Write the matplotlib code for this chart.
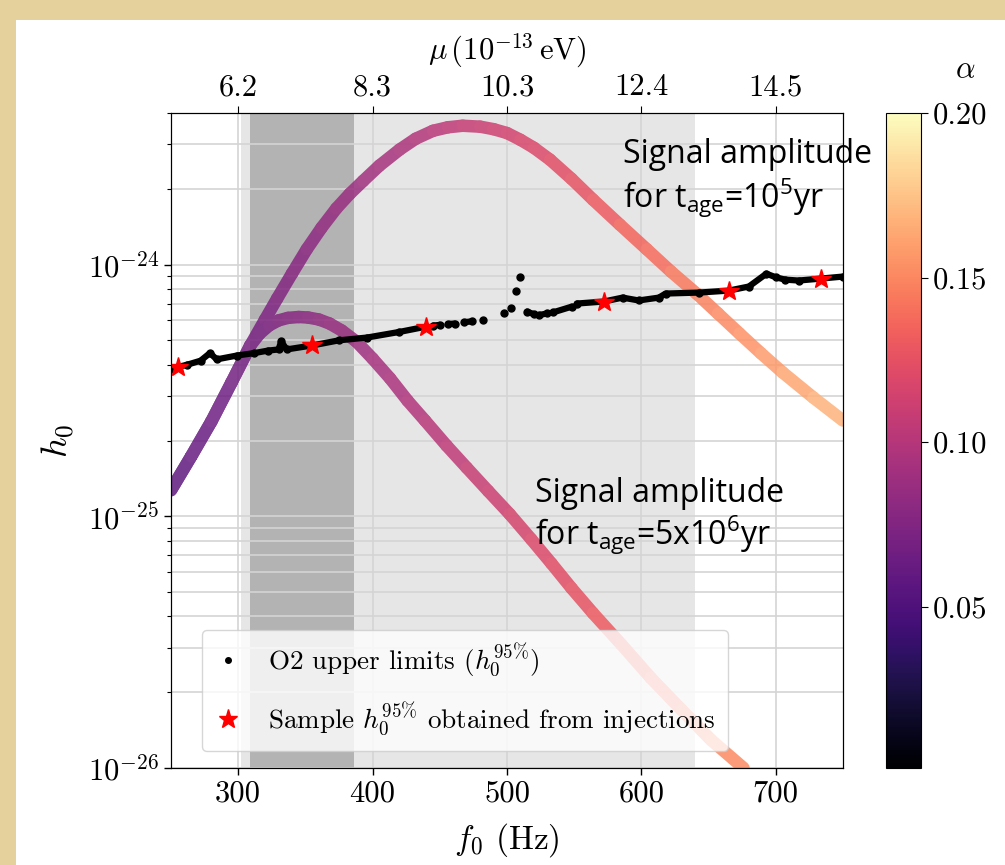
import numpy as np
import matplotlib
matplotlib.use('Agg')
import matplotlib.pyplot as plt
from matplotlib.collections import LineCollection
from matplotlib.patches import Rectangle
from matplotlib.colors import Normalize
from matplotlib.lines import Line2D
from matplotlib.ticker import NullFormatter

plt.rcParams['font.family'] = 'serif'
plt.rcParams['font.serif'] = ['cmr10']
plt.rcParams['mathtext.fontset'] = 'cm'
# used only by the slide annotations (math_fontfamily='custom')
plt.rcParams['mathtext.rm'] = 'Open Sans'
plt.rcParams['mathtext.it'] = 'Open Sans:italic'
plt.rcParams['mathtext.bf'] = 'Open Sans:bold'
plt.rcParams['axes.unicode_minus'] = False
plt.rcParams['axes.formatter.use_mathtext'] = True

nan = np.nan

# signal amplitude, t_age = 1e5 yr
f_young = [250, 265, 280, 295, 309, 320, 329, 340, 351, 362, 373, 383, 393, 405, 420, 432, 445, 456, 467,
           480, 490, 500, 510, 520, 532, 548, 564, 584, 604, 622, 641, 657, 673, 689, 705, 728, 750]
h_young = [1.27e-25, 1.73e-25, 2.38e-25, 3.40e-25, 4.77e-25, 6.05e-25, 7.33e-25, 9.21e-25, 1.15e-24,
           1.40e-24, 1.67e-24, 1.91e-24, 2.15e-24, 2.47e-24, 2.86e-24, 3.16e-24, 3.40e-24, 3.51e-24,
           3.56e-24, 3.53e-24, 3.45e-24, 3.33e-24, 3.13e-24, 2.91e-24, 2.61e-24, 2.19e-24, 1.81e-24,
           1.44e-24, 1.15e-24, 9.38e-25, 7.67e-25, 6.39e-25, 5.32e-25, 4.44e-25, 3.73e-25, 2.96e-25, 2.40e-25]
a_young = [0.057, 0.060, 0.064, 0.067, 0.070, 0.073, 0.075, 0.077, 0.080, 0.082, 0.085, 0.087, 0.089,
           0.092, 0.095, 0.098, 0.101, 0.104, 0.106, 0.109, 0.111, 0.114, 0.116, 0.118, 0.121, 0.124,
           0.128, 0.133, 0.137, 0.141, 0.146, 0.149, 0.153, 0.156, 0.160, 0.165, 0.170]

# signal amplitude, t_age = 5e6 yr
f_old = [250, 265, 280, 295, 309, 316, 323, 330, 337, 345, 352, 360, 368, 377, 388, 400, 413, 426, 439,
         455, 470, 486, 502, 518, 533, 548, 564, 585, 607, 630, 652, 676]
h_old = [1.27e-25, 1.73e-25, 2.38e-25, 3.40e-25, 4.77e-25, 5.32e-25, 5.73e-25, 6.00e-25, 6.14e-25,
         6.19e-25, 6.16e-25, 6.05e-25, 5.83e-25, 5.47e-25, 4.94e-25, 4.23e-25, 3.53e-25, 2.88e-25,
         2.40e-25, 1.91e-25, 1.56e-25, 1.26e-25, 1.02e-25, 8.11e-26, 6.50e-26, 5.18e-26, 4.12e-26,
         3.10e-26, 2.28e-26, 1.70e-26, 1.29e-26, 1.0e-26]
a_old = [0.057, 0.060, 0.064, 0.067, 0.070, 0.072, 0.073, 0.075, 0.077, 0.078, 0.080, 0.082, 0.084,
         0.086, 0.088, 0.091, 0.094, 0.097, 0.100, 0.103, 0.107, 0.110, 0.114, 0.118, 0.121, 0.124,
         0.128, 0.133, 0.138, 0.143, 0.148, 0.153]

# O2 upper limits (nan = gap)
ul_f = [250, 262, 272, 279, 284, 299, 312, 322, 330, 332, 336, 355, 375, 396, 420, 440,
        nan, 445, 450, nan, 456, 461, nan, 468, 474, nan, 482, nan, 498, nan, 503, nan, 507, nan, 510, nan,
        515, 520, nan, 524, 530, nan, 534, 548, nan,
        552, 572, 586, 598, 613, 618, 643, 665, 680, 693, 700, 707, 717, 734, 750]
ul_h = [3.86e-25, 4.0e-25, 4.15e-25, 4.45e-25, 4.2e-25, 4.35e-25, 4.45e-25, 4.55e-25, 4.6e-25, 4.95e-25,
        4.6e-25, 4.77e-25, 5.0e-25, 5.13e-25, 5.4e-25, 5.67e-25,
        nan, 5.72e-25, 5.76e-25, nan, 5.8e-25, 5.83e-25, nan, 5.9e-25, 5.95e-25, nan, 6.0e-25, nan,
        6.4e-25, nan, 6.75e-25, nan, 7.88e-25, nan, 8.96e-25, nan,
        6.5e-25, 6.35e-25, nan, 6.3e-25, 6.4e-25, nan, 6.45e-25, 6.8e-25, nan,
        7.0e-25, 7.13e-25, 7.39e-25, 7.2e-25, 7.39e-25, 7.67e-25, 7.74e-25, 7.88e-25, 8.18e-25,
        9.2e-25, 8.9e-25, 8.71e-25, 8.64e-25, 8.8e-25, 8.96e-25]

# injection samples
star_f = [255, 355, 440, 572, 665, 734]
star_h = [3.9e-25, 4.77e-25, 5.67e-25, 7.13e-25, 7.88e-25, 8.8e-25]

x_ticks = [300, 400, 500, 600, 700]
x_labels = ['300', '400', '500', '600', '700']
top_labels = ['6.2', '8.3', '10.3', '12.4', '14.5']
y_ticks = [1e-26, 1e-25, 1e-24]
y_labels = [r'$10^{-26}$', r'$10^{-25}$', r'$10^{-24}$']
cb_ticks = [0.05, 0.10, 0.15, 0.20]
cb_labels = ['0.05', '0.10', '0.15', '0.20']

W, H = 1005, 865
fig = plt.figure(figsize=(W / 100, H / 100), dpi=100)
fig.patch.set_facecolor('#e4d19c')
fig.add_artist(Rectangle((16 / W, 0), 1 - 16 / W, (H - 20) / H, transform=fig.transFigure,
                         facecolor='white', edgecolor='none', zorder=-1))

ax = fig.add_axes([171 / W, 97 / H, 672 / W, 655 / H])
cax = fig.add_axes([886 / W, 97 / H, 35 / W, 655 / H])

ax.set_yscale('log')

# frequency bands
ax.axvspan(302, 640, color='#e6e6e6', lw=0, zorder=0)
ax.axvspan(309, 386, color='#b3b3b3', lw=0, zorder=0)

# signal curves coloured by alpha
norm = Normalize(vmin=0.001, vmax=0.2)
cmap = plt.get_cmap('magma')


def fade(im, dpi):
    im[:, :, 3] *= 0.85
    return im, 0, 0


segs, vals = [], []
for f, h, a in [(f_young, h_young, a_young), (f_old, h_old, a_old)]:
    pts = np.column_stack([f, h])
    segs.extend(np.stack([pts[:-1], pts[1:]], axis=1))
    vals.extend((np.array(a[:-1]) + np.array(a[1:])) / 2)
lc = LineCollection(segs, cmap=cmap, norm=norm, linewidths=9, capstyle='round',
                    joinstyle='round', zorder=2)
lc.set_array(np.array(vals))
lc.set_agg_filter(fade)
ax.add_collection(lc)

ax.plot(ul_f, ul_h, '-o', color='k', lw=4.5, ms=5, solid_capstyle='round', zorder=3)
ax.plot(star_f, star_h, ls='none', marker='*', ms=15, color='red', zorder=4)

ax.set_xlim(250, 750)
ax.set_ylim(1e-26, 4e-24)
ax.set_xticks(x_ticks)
ax.set_xticklabels(x_labels)
ax.set_yticks(y_ticks)
ax.set_yticklabels(y_labels)
ax.yaxis.set_minor_formatter(NullFormatter())
ax.tick_params(which='major', labelsize=22, length=5, width=1)
ax.tick_params(which='minor', length=3, width=0.8)
ax.grid(True, which='both', axis='y', color='#d4d4d4', lw=1.2)
ax.grid(True, which='major', axis='x', color='#d4d4d4', lw=1.2)
ax.set_xlabel(r'$f_0$ (Hz)', fontsize=24, labelpad=10)
ax.set_ylabel(r'$h_0$', fontsize=26, labelpad=8)

ax2 = ax.twiny()
ax2.set_xlim(250, 750)
ax2.set_xticks(x_ticks)
ax2.set_xticklabels(top_labels)
ax2.tick_params(labelsize=22, length=5)
ax2.set_xlabel(r'$\mu\,(10^{-13}\,\mathrm{eV})$', fontsize=22, labelpad=10)

leg_handles = [Line2D([], [], ls='none', marker='o', ms=4, color='k'),
               Line2D([], [], ls='none', marker='*', ms=14, color='red')]
ax.legend(leg_handles, [r'O2 upper limits ($h_0^{95\%}$)',
                        r'Sample $h_0^{95\%}$ obtained from injections'],
          loc='lower left', bbox_to_anchor=(0.046, 0.026), borderaxespad=0, fontsize=19.5,
          framealpha=0.8, labelspacing=0.75, handlelength=1.05, handletextpad=0.95, borderpad=0.45)

sm = plt.cm.ScalarMappable(norm=norm, cmap=cmap)
cb = fig.colorbar(sm, cax=cax)
cb.set_ticks(cb_ticks)
cb.set_ticklabels(cb_labels)
cax.tick_params(labelsize=22, length=5)
fig.text(965 / W, 1 - 70 / H, r'$\alpha$', fontsize=22, ha='center', va='center')

ann = dict(fontsize=23, family='Open Sans', math_fontfamily='custom', ha='left', va='baseline')
fig.text(623 / W, 1 - 163 / H, 'Signal amplitude', **ann)
fig.text(623 / W, 1 - 208 / H, r'for t$_{\mathrm{age}}$=10$^{\mathrm{5}}$yr', **ann)
fig.text(535 / W, 1 - 502 / H, 'Signal amplitude', **ann)
fig.text(535 / W, 1 - 545 / H, r'for t$_{\mathrm{age}}$=5x10$^{\mathrm{6}}$yr', **ann)

fig.savefig('out.png', dpi=100, facecolor=fig.get_facecolor())
